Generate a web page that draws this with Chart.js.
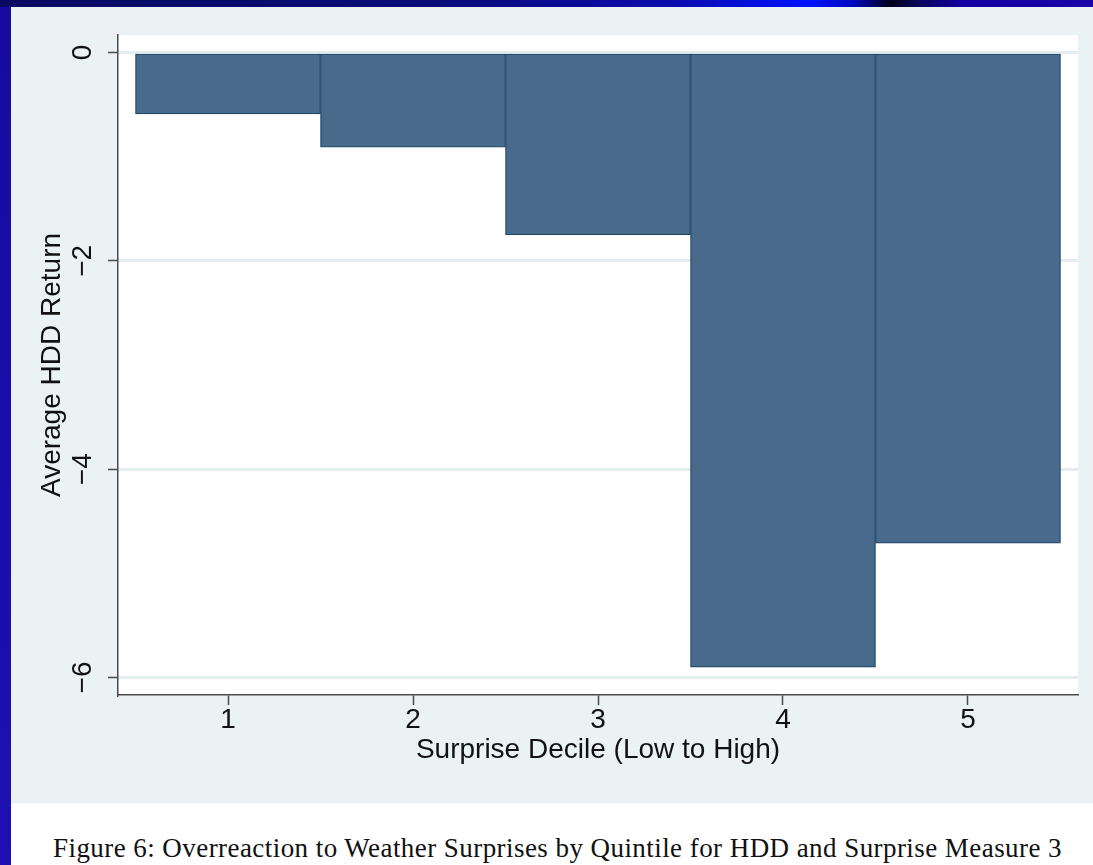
<!DOCTYPE html>
<html>
<head>
<meta charset="utf-8">
<script src="https://cdn.jsdelivr.net/npm/chart.js@4.4.1/dist/chart.umd.min.js"></script>
<style>
  html, body { margin: 0; padding: 0; }
  body { width: 1093px; height: 865px; position: relative; overflow: hidden;
         background: linear-gradient(to bottom, #170a9c 0%, #1a0daa 50%, #1e10b2 100%); }
  #topband { position: absolute; left: 0; top: 0; width: 1093px; height: 7px;
    background: linear-gradient(to right, #0a0a62 0%, #0b0b78 40%, #0c0cb0 62%, #0012ff 74%, #0008c0 78%, #000018 81.5%, #08085a 84%, #1400a0 88%, #1a06a8 100%); }
  #panel { position: absolute; left: 11px; top: 7px; width: 1082px; height: 796px; background: #eaf2f3; }
  #capbox { position: absolute; left: 11px; top: 803px; width: 1082px; height: 62px; background: #ffffff; }
  #caption { position: absolute; left: 53px; top: 835px; white-space: nowrap;
    font-family: "Liberation Serif", "DejaVu Serif", serif; font-size: 27px; line-height: 27px; color: #111; }
  canvas { position: absolute; left: 0; top: 0; }
</style>
</head>
<body>
<div id="topband"></div>
<div id="panel"><canvas id="chart" width="1082" height="796"></canvas></div>
<div id="capbox"></div>
<div id="caption">Figure 6: Overreaction to Weather Surprises by Quintile for HDD and Surprise Measure 3</div>
<script>
// Surprise quintiles and the average HDD return in each
const deciles = [1, 2, 3, 4, 5];
const avgReturn = [-0.59, -0.91, -1.75, -5.90, -4.71];

// Axis ticks and their labels
const xTicks = [1, 2, 3, 4, 5];
const yTicks = [-6, -4, -2, 0];
const yTickLabels = ['\u22126', '\u22124', '\u22122', '0'];

const xTitle = 'Surprise Decile (Low to High)';
const yTitle = 'Average HDD Return';

const axisColor = '#4a4a4a';
const gridColor = '#e3ecef';
const tickFont = { family: 'Liberation Sans, Arial, sans-serif', size: 28, lineHeight: 1 };
const titleFont = { family: 'Liberation Sans, Arial, sans-serif', size: 28, lineHeight: 1 };

// White plot region on the bluish-gray graph region
const plotBackground = {
  id: 'plotBackground',
  beforeDraw(chart) {
    const { ctx, chartArea: a } = chart;
    ctx.save();
    ctx.fillStyle = '#eaf2f3';
    ctx.fillRect(0, 0, chart.width, chart.height);
    ctx.fillStyle = '#ffffff';
    ctx.fillRect(a.left, a.top, a.right - a.left, a.bottom - a.top);
    ctx.restore();
  }
};

new Chart(document.getElementById('chart'), {
  type: 'bar',
  data: {
    datasets: [{
      data: deciles.map((d, i) => ({ x: d, y: avgReturn[i] })),
      backgroundColor: '#486b8b',
      borderColor: '#1f4466',
      borderWidth: 1.2,
      borderSkipped: false,
      barPercentage: 1,
      categoryPercentage: 1
    }]
  },
  options: {
    responsive: false,
    animation: false,
    layout: { padding: { top: 28, right: 15, left: 0, bottom: 0 } },
    plugins: { legend: { display: false }, tooltip: { enabled: false } },
    scales: {
      x: {
        type: 'linear',
        offset: false,
        min: 0.4054,
        max: 5.5946,
        afterBuildTicks: s => { s.ticks = xTicks.map(v => ({ value: v })); },
        afterFit: s => { s.height = 108; },
        grid: { offset: false, drawOnChartArea: false, tickColor: axisColor, tickWidth: 1.5, tickLength: 10 },
        border: { display: true, color: axisColor, width: 1.5 },
        ticks: { color: '#111', font: tickFont, padding: 1, maxRotation: 0, autoSkip: false },
        title: { display: true, text: xTitle, color: '#111', font: titleFont, padding: { top: 0, bottom: 39 } }
      },
      y: {
        type: 'linear',
        min: -6.168,
        max: 0.168,
        afterBuildTicks: s => { s.ticks = yTicks.map(v => ({ value: v })); },
        afterFit: s => { s.width = 107; },
        grid: { color: gridColor, lineWidth: 3, tickColor: axisColor, tickWidth: 1.5, tickLength: 10 },
        border: { display: true, color: axisColor, width: 1.5 },
        ticks: {
          color: '#111', font: tickFont, padding: 9, minRotation: 90, maxRotation: 90,
          crossAlign: 'center', autoSkip: false,
          callback: v => { const i = yTicks.indexOf(v); return i >= 0 ? yTickLabels[i] : ''; }
        },
        title: { display: true, text: yTitle, color: '#111', font: titleFont, padding: { top: 27, bottom: 0 } }
      }
    }
  },
  plugins: [plotBackground]
});

// Stretch the caption to its printed width
(function () {
  const cap = document.getElementById('caption');
  const target = 1009;
  const w = cap.getBoundingClientRect().width;
  const n = cap.textContent.length;
  cap.style.letterSpacing = ((target - w) / n).toFixed(3) + 'px';
})();
</script>
</body>
</html>
